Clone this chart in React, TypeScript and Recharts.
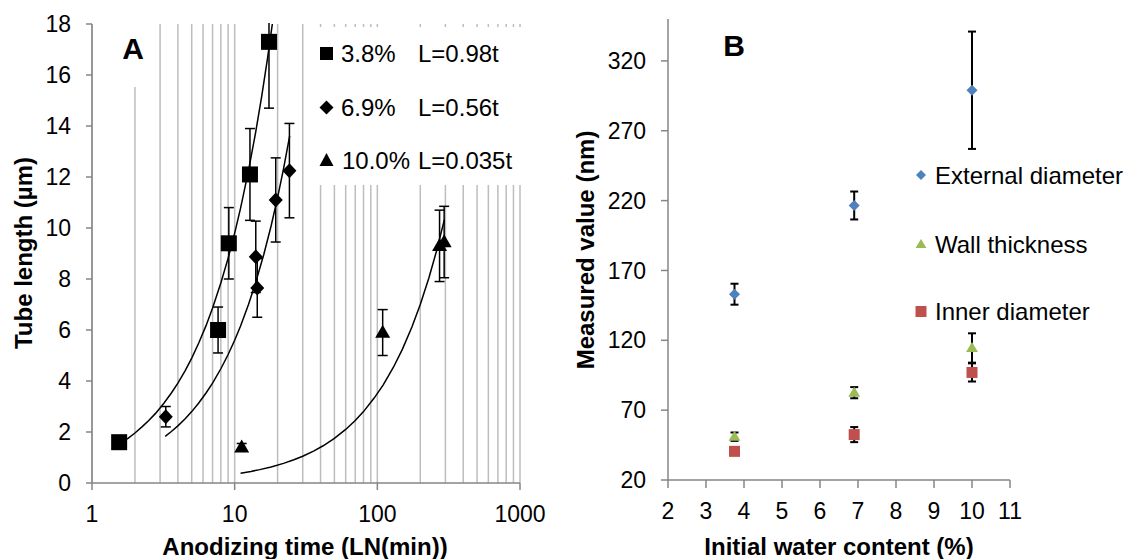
import { ScatterChart, Scatter, XAxis, YAxis, CartesianGrid, ErrorBar } from 'recharts';

// panel A: tube length vs anodizing time (log x)
const T_38 = [1.55, 7.65, 9.1, 12.8, 17.4];
const L_38 = [1.6, 6.0, 9.4, 12.1, 17.3];
const E_38 = [0.2, 0.9, 1.4, 1.8, 2.6];

const T_69 = [3.29, 14.4, 14.06, 19.4, 24.2];
const L_69 = [2.6, 7.65, 8.87, 11.1, 12.25];
const E_69 = [0.4, 1.15, 1.4, 1.65, 1.85];

const T_100 = [11.2, 109, 273, 294];
const L_100 = [1.4, 5.9, 9.3, 9.45];
const E_100 = [0.15, 0.9, 1.4, 1.4];

// trend lines
const FIT38_T = [1.76, 2, 2.25, 2.5, 2.8, 3.2, 3.6, 4, 4.5, 5, 5.6, 6.3, 7, 8, 9, 10, 11, 12.5, 14, 15.5, 17, 18.37];
const FIT38_L = [1.72, 1.96, 2.21, 2.45, 2.74, 3.14, 3.53, 3.92, 4.41, 4.9, 5.49, 6.17, 6.86, 7.84, 8.82, 9.8, 10.78, 12.25, 13.72, 15.19, 16.66, 18];
const FIT69_T = [3.26, 3.6, 4, 4.5, 5, 5.6, 6.3, 7, 8, 9, 10, 11, 12.5, 14, 16, 18, 20, 22, 24.3];
const FIT69_L = [1.83, 2.02, 2.24, 2.52, 2.8, 3.14, 3.53, 3.92, 4.48, 5.04, 5.6, 6.16, 7, 7.84, 8.96, 10.08, 11.2, 12.32, 13.61];
const FIT100_T = [11, 13, 15, 18, 22, 26, 30, 36, 42, 50, 60, 70, 80, 95, 110, 130, 150, 175, 200, 230, 260, 295];
const FIT100_L = [0.385, 0.455, 0.525, 0.63, 0.77, 0.91, 1.05, 1.26, 1.47, 1.75, 2.1, 2.45, 2.8, 3.33, 3.85, 4.55, 5.25, 6.13, 7, 8.05, 9.1, 10.33];

const X_TICKS_A = [1, 2, 3, 4, 5, 6, 7, 8, 9, 10, 20, 30, 40, 50, 60, 70, 80, 90, 100, 200, 300, 400, 500, 600, 700, 800, 900, 1000];
const DECADES = [1, 10, 100, 1000];
const Y_TICKS_A = [0, 2, 4, 6, 8, 10, 12, 14, 16, 18];

// panel B: measured values vs water content
const WATER = [3.75, 6.9, 10];
const EXTERNAL = [153, 216.5, 299];
const EXTERNAL_ERR = [7.5, 10, 42];
const WALL = [51, 82.5, 114.5];
const WALL_ERR = [3, 4, 10.5];
const INNER = [40.5, 52.5, 97];
const INNER_ERR = [1, 5.4, 6.5];

const X_TICKS_B = [2, 3, 4, 5, 6, 7, 8, 9, 10, 11];
const Y_TICKS_B = [20, 70, 120, 170, 220, 270, 320];

const FONT = '"Liberation Sans", Arial, sans-serif';
const AXIS = '#868686';
const BLUE = '#4F81BD';
const GREEN = '#9BBB59';
const RED = '#C0504D';

const rows = (xs: number[], ys: number[], es?: number[]) =>
  xs.map((x, i) => ({ x, y: ys[i], err: es ? es[i] : 0 }));

const square = (s: number, fill: string) => (p: any) => (
  <rect x={p.cx - s / 2} y={p.cy - s / 2} width={s} height={s} fill={fill} />
);
const diamond = (w: number, h: number, fill: string) => (p: any) => (
  <polygon
    points={`${p.cx},${p.cy - h / 2} ${p.cx + w / 2},${p.cy} ${p.cx},${p.cy + h / 2} ${p.cx - w / 2},${p.cy}`}
    fill={fill}
  />
);
const triangle = (w: number, h: number, fill: string) => (p: any) => (
  <polygon
    points={`${p.cx},${p.cy - h * 0.6} ${p.cx + w / 2},${p.cy + h * 0.4} ${p.cx - w / 2},${p.cy + h * 0.4}`}
    fill={fill}
  />
);
const noShape = () => <g />;

function DecadeTick(props: any) {
  const { x, y, payload } = props;
  if (!DECADES.includes(payload.value)) return <g />;
  return (
    <g>
      <line x1={x} y1={y} x2={x} y2={y + 7} stroke={AXIS} strokeWidth={1.5} />
      <text x={x} y={y + 39} textAnchor="middle" fill="#000" fontSize={23} fontFamily={FONT}>
        {payload.value}
      </text>
    </g>
  );
}

const tickStyle = { fill: '#000', fontSize: 23, fontFamily: FONT };
const axisLine = { stroke: AXIS, strokeWidth: 1.5 };

function PanelA() {
  return (
    <ScatterChart width={560} height={559} margin={{ top: 24, right: 40, bottom: 16, left: 0 }}>
      <CartesianGrid horizontal={false} stroke="#bdbdbd" strokeWidth={1.5} />
      <XAxis
        dataKey="x"
        type="number"
        scale="log"
        domain={[1, 1000]}
        ticks={X_TICKS_A}
        interval={0}
        height={60}
        tickSize={0}
        tickMargin={0}
        tickLine={false}
        axisLine={axisLine}
        tick={<DecadeTick />}
        allowDataOverflow
      />
      <YAxis
        dataKey="y"
        type="number"
        domain={[0, 18]}
        ticks={Y_TICKS_A}
        interval={0}
        width={92}
        tickSize={6}
        tickMargin={15}
        tick={tickStyle}
        tickLine={axisLine}
        axisLine={axisLine}
        allowDataOverflow
      />
      <Scatter data={rows(FIT38_T, FIT38_L)} line={{ stroke: '#000', strokeWidth: 1.5 }} shape={noShape} isAnimationActive={false} />
      <Scatter data={rows(FIT69_T, FIT69_L)} line={{ stroke: '#000', strokeWidth: 1.5 }} shape={noShape} isAnimationActive={false} />
      <Scatter data={rows(FIT100_T, FIT100_L)} line={{ stroke: '#000', strokeWidth: 1.5 }} shape={noShape} isAnimationActive={false} />
      <Scatter data={rows(T_38, L_38, E_38)} shape={square(16, '#000')} isAnimationActive={false}>
        <ErrorBar dataKey="err" direction="y" width={5} stroke="#000" strokeWidth={1.5} />
      </Scatter>
      <Scatter data={rows(T_69, L_69, E_69)} shape={diamond(14, 15, '#000')} isAnimationActive={false}>
        <ErrorBar dataKey="err" direction="y" width={5} stroke="#000" strokeWidth={1.5} />
      </Scatter>
      <Scatter data={rows(T_100, L_100, E_100)} shape={triangle(15, 13, '#000')} isAnimationActive={false}>
        <ErrorBar dataKey="err" direction="y" width={5} stroke="#000" strokeWidth={1.5} />
      </Scatter>
    </ScatterChart>
  );
}

function PanelB() {
  return (
    <ScatterChart width={569} height={559} margin={{ top: 19, right: 119, bottom: 19, left: 0 }}>
      <XAxis
        dataKey="x"
        type="number"
        domain={[2, 11]}
        ticks={X_TICKS_B}
        interval={0}
        height={60}
        tickSize={8}
        tickMargin={15}
        tick={tickStyle}
        tickLine={axisLine}
        axisLine={axisLine}
      />
      <YAxis
        dataKey="y"
        type="number"
        domain={[20, 350]}
        ticks={Y_TICKS_B}
        interval={0}
        width={108}
        tickSize={7}
        tickMargin={15}
        tick={tickStyle}
        tickLine={axisLine}
        axisLine={axisLine}
      />
      <Scatter data={rows(WATER, EXTERNAL, EXTERNAL_ERR)} shape={diamond(11, 11, BLUE)} isAnimationActive={false}>
        <ErrorBar dataKey="err" direction="y" width={4} stroke="#000" strokeWidth={2} />
      </Scatter>
      <Scatter data={rows(WATER, WALL, WALL_ERR)} shape={triangle(12, 10, GREEN)} isAnimationActive={false}>
        <ErrorBar dataKey="err" direction="y" width={4} stroke="#000" strokeWidth={2} />
      </Scatter>
      <Scatter data={rows(WATER, INNER, INNER_ERR)} shape={square(11, RED)} isAnimationActive={false}>
        <ErrorBar dataKey="err" direction="y" width={4} stroke="#000" strokeWidth={2} />
      </Scatter>
    </ScatterChart>
  );
}

export default function App() {
  return (
    <div style={{ position: 'absolute', left: 0, top: 0, width: 1129, height: 559, background: '#fff', fontFamily: FONT }}>
      <div style={{ position: 'absolute', left: 0, top: 0 }}>
        <PanelA />
      </div>
      <div style={{ position: 'absolute', left: 560, top: 0 }}>
        <PanelB />
      </div>
      <svg width={1129} height={559} style={{ position: 'absolute', left: 0, top: 0, pointerEvents: 'none' }}>
        {/* hide what spills over the top of plot A */}
        <rect x={94} y={0} width={440} height={23} fill="#fff" />
        {/* panel A label and legend boxes */}
        <rect x={108} y={24} width={48} height={63} fill="#fff" />
        <text x={133} y={59} textAnchor="middle" fontSize={30} fontWeight="bold" fontFamily={FONT}>A</text>
        <rect x={315} y={27} width={212} height={158} fill="#fff" />
        <rect x={320} y={47} width={13} height={13} fill="#000" />
        <text x={341} y={62} fontSize={24} fontFamily={FONT}>3.8%</text>
        <text x={418} y={62} fontSize={24} fontFamily={FONT}>L=0.98t</text>
        <polygon points="326.5,100.5 333.5,107.5 326.5,114.5 319.5,107.5" fill="#000" />
        <text x={341} y={116} fontSize={24} fontFamily={FONT}>6.9%</text>
        <text x={418} y={116} fontSize={24} fontFamily={FONT}>L=0.56t</text>
        <polygon points="326.5,153 333.5,166 319.5,166" fill="#000" />
        <text x={342} y={169} fontSize={24} fontFamily={FONT}>10.0%</text>
        <text x={418} y={169} fontSize={24} fontFamily={FONT}>L=0.035t</text>
        {/* panel A axis titles */}
        <text transform="translate(32,253) rotate(-90)" textAnchor="middle" fontSize={24} fontWeight="bold" fontFamily={FONT}>
          Tube length (µm)
        </text>
        <text x={305} y={555} textAnchor="middle" fontSize={24} fontWeight="bold" fontFamily={FONT}>
          Anodizing time (LN(min))
        </text>
        {/* panel B label, legend and titles */}
        <text x={734} y={56} textAnchor="middle" fontSize={30} fontWeight="bold" fontFamily={FONT}>B</text>
        <polygon points="921,170 926,175 921,180 916,175" fill={BLUE} />
        <text x={935} y={183.5} fontSize={24} fontFamily={FONT}>External diameter</text>
        <polygon points="921,239 926.5,248 915.5,248" fill={GREEN} />
        <text x={935} y={252.5} fontSize={24} fontFamily={FONT}>Wall thickness</text>
        <rect x={915.5} y={306} width={11} height={11} fill={RED} />
        <text x={935} y={320} fontSize={24} fontFamily={FONT}>Inner diameter</text>
        <text transform="translate(594,250) rotate(-90)" textAnchor="middle" fontSize={24} fontWeight="bold" fontFamily={FONT}>
          Measured value (nm)
        </text>
        <text x={839} y={555} textAnchor="middle" fontSize={24} fontWeight="bold" fontFamily={FONT}>
          Initial water content (%)
        </text>
      </svg>
    </div>
  );
}
